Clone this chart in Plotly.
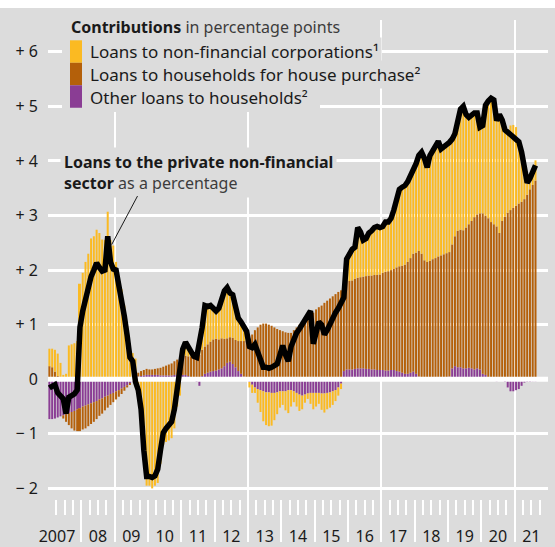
import plotly.graph_objects as go

# monthly observations, Jan 2007 - Aug 2021
months = [f"{y}-{m:02d}" for y in range(2007, 2022) for m in range(1, 13)][:176]

# contributions in percentage points
corporations = [
    0.32, 0.34, 0.40, 0.41, 0.28, 0.08, 0.10, 0.62, 0.64, 0.66, 0.70, 1.75,
    1.95, 2.15, 2.30, 2.58, 2.62, 2.74, 2.68, 2.56, 2.55, 3.07, 2.55, 2.45,
    2.15, 1.85, 1.65, 1.35, 0.95, 0.65, 0.45, 0.30, -0.35, -0.75, -1.10, -1.95,
    -1.95, -2.00, -1.95, -1.90, -1.55, -1.20, -1.15, -1.12, -1.08, -0.90, -0.50, -0.30,
    0.19, 0.27, 0.20, 0.08, 0.03, 0.03, 0.17, 0.41, 0.70, 0.71, 0.63, 0.57,
    0.55, 0.60, 0.78, 0.88, 0.95, 0.85, 0.82, 0.70, 0.50, 0.40, 0.25, 0.15,
    -0.10, -0.15, -0.10, -0.25, -0.40, -0.55, -0.60, -0.62, -0.60, -0.50, -0.40, -0.30,
    -0.25, -0.35, -0.42, -0.30, -0.20, -0.25, -0.30, -0.25, -0.15, -0.10, -0.20, -0.30,
    -0.25, -0.20, -0.30, -0.35, -0.30, -0.28, -0.25, -0.20, -0.15, -0.10, 0.05, 0.40,
    0.48, 0.55, 0.58, 0.90, 0.82, 0.68, 0.70, 0.78, 0.80, 0.85, 0.88, 0.85,
    0.85, 0.91, 0.90, 0.95, 1.08, 1.25, 1.41, 1.44, 1.45, 1.47, 1.50, 1.50,
    1.63, 1.75, 1.86, 1.87, 1.73, 1.93, 2.00, 2.08, 2.11, 1.95, 1.96, 1.99,
    2.01, 1.93, 1.88, 2.03, 2.21, 2.27, 2.07, 1.96, 1.95, 1.91, 1.86, 1.58,
    1.61, 2.02, 2.15, 2.27, 2.28, 1.94, 2.17, 1.85, 1.58, 1.50, 1.55, 1.52,
    1.44, 1.18, 0.95, 0.40, 0.20, 0.18, 0.22, 0.37,
]
house_purchase = [
    0.24, 0.22, 0.14, 0.06, 0.02, -0.06, -0.14, -0.22, -0.30, -0.36, -0.40, -0.42,
    -0.42, -0.42, -0.40, -0.38, -0.36, -0.33, -0.30, -0.28, -0.25, -0.22, -0.20, -0.17,
    -0.15, -0.12, -0.10, -0.07, -0.04, -0.02, 0.03, 0.05, 0.07, 0.09, 0.10, 0.11,
    0.10, 0.10, 0.11, 0.12, 0.14, 0.16, 0.18, 0.20, 0.22, 0.25, 0.28, 0.30,
    0.33, 0.35, 0.36, 0.38, 0.40, 0.42, 0.45, 0.48, 0.50, 0.52, 0.55, 0.58,
    0.58, 0.55, 0.55, 0.50, 0.45, 0.45, 0.48, 0.50, 0.55, 0.60, 0.65, 0.68,
    0.75, 0.82, 0.90, 0.95, 1.00, 1.02, 1.02, 1.00, 0.98, 0.95, 0.92, 0.90,
    0.88, 0.86, 0.85, 0.85, 0.90, 0.95, 1.00, 1.05, 1.10, 1.15, 1.20, 1.22,
    1.28, 1.32, 1.35, 1.40, 1.44, 1.48, 1.52, 1.56, 1.60, 1.63, 1.55, 1.65,
    1.62, 1.63, 1.65, 1.66, 1.67, 1.68, 1.70, 1.71, 1.72, 1.73, 1.74, 1.75,
    1.78, 1.81, 1.82, 1.83, 1.85, 1.90, 1.93, 1.96, 2.00, 2.05, 2.10, 2.16,
    2.22, 2.30, 2.28, 2.17, 2.14, 2.16, 2.19, 2.21, 2.24, 2.26, 2.27, 2.28,
    2.28, 2.27, 2.38, 2.50, 2.52, 2.53, 2.58, 2.63, 2.70, 2.79, 2.82, 2.86,
    2.94, 2.92, 2.93, 2.88, 2.84, 2.80, 2.68, 2.90, 2.98, 3.05, 3.10, 3.14,
    3.18, 3.22, 3.25, 3.30, 3.38, 3.48, 3.56, 3.64,
]
other_households = [
    -0.73, -0.73, -0.72, -0.70, -0.68, -0.66, -0.64, -0.62, -0.60, -0.58, -0.55, -0.53,
    -0.50, -0.48, -0.46, -0.44, -0.42, -0.40, -0.37, -0.35, -0.32, -0.30, -0.27, -0.25,
    -0.22, -0.20, -0.17, -0.14, -0.11, -0.08, -0.05, 0.03, 0.05, 0.06, 0.07, 0.08,
    0.08, 0.08, 0.08, 0.08, 0.07, 0.07, 0.07, 0.07, 0.07, 0.08, 0.08, 0.08,
    0.08, 0.08, 0.06, 0.04, 0.02, -0.05, -0.12, 0.06, 0.10, 0.12, 0.14, 0.15,
    0.16, 0.18, 0.20, 0.24, 0.30, 0.32, 0.28, 0.22, 0.15, 0.10, 0.05, 0.02,
    -0.05, -0.10, -0.15, -0.18, -0.20, -0.22, -0.24, -0.24, -0.25, -0.25, -0.24, -0.22,
    -0.22, -0.22, -0.20, -0.20, -0.22, -0.25, -0.28, -0.30, -0.28, -0.26, -0.25, -0.25,
    -0.25, -0.25, -0.26, -0.26, -0.25, -0.24, -0.22, -0.20, -0.15, -0.08, 0.15, 0.18,
    0.18, 0.18, 0.19, 0.20, 0.20, 0.20, 0.19, 0.19, 0.18, 0.18, 0.17, 0.17,
    0.17, 0.16, 0.16, 0.17, 0.17, 0.15, 0.14, 0.12, 0.10, 0.10, 0.12, 0.14,
    0.10, 0.05, 0.02, 0.01, 0.01, 0.01, 0.01, 0.01, 0.01, 0.01, 0.02, 0.03,
    0.05, 0.20, 0.24, 0.22, 0.22, 0.20, 0.20, 0.21, 0.20, 0.18, 0.20, 0.18,
    0.10, 0.08, 0.02, -0.02, -0.03, -0.04, -0.03, -0.02, -0.05, -0.15, -0.22, -0.22,
    -0.20, -0.18, -0.12, -0.06, -0.05, -0.05, -0.04, -0.04,
]
# loans to the private non-financial sector, growth in %
total_growth = [
    -0.16, -0.12, -0.10, -0.25, -0.32, -0.36, -0.63, -0.33, -0.30, -0.27, -0.20, 0.95,
    1.25, 1.50, 1.70, 1.88, 2.00, 2.13, 2.05, 1.98, 2.00, 2.62, 2.15, 2.02,
    2.00, 1.75, 1.45, 1.15, 0.80, 0.40, 0.33, -0.05, -0.20, -0.55, -1.30, -1.78,
    -1.78, -1.80, -1.77, -1.65, -1.30, -0.98, -0.90, -0.85, -0.78, -0.55, -0.20, 0.15,
    0.55, 0.68, 0.60, 0.50, 0.42, 0.40, 0.62, 0.95, 1.35, 1.33, 1.35, 1.30,
    1.25, 1.30, 1.50, 1.62, 1.68, 1.58, 1.55, 1.35, 1.12, 1.05, 0.95, 0.88,
    0.60, 0.58, 0.64, 0.50, 0.40, 0.22, 0.22, 0.20, 0.22, 0.24, 0.28, 0.45,
    0.62, 0.45, 0.33, 0.60, 0.76, 0.85, 0.92, 1.00, 1.10, 1.20, 1.25, 0.65,
    0.85, 1.05, 1.00, 0.82, 0.90, 1.02, 1.12, 1.22, 1.30, 1.40, 1.50, 2.20,
    2.30, 2.38, 2.42, 2.78, 2.70, 2.55, 2.58, 2.68, 2.72, 2.78, 2.80, 2.78,
    2.80, 2.88, 2.88, 2.95, 3.10, 3.30, 3.48, 3.52, 3.55, 3.62, 3.72, 3.80,
    3.95, 4.10, 4.16, 4.05, 3.88, 4.10, 4.20, 4.30, 4.36, 4.22, 4.25, 4.30,
    4.34, 4.40, 4.50, 4.75, 4.95, 5.00, 4.85, 4.80, 4.85, 4.88, 4.88, 4.62,
    4.65, 5.02, 5.10, 5.15, 5.12, 4.74, 4.85, 4.75, 4.57, 4.53, 4.48, 4.46,
    4.42, 4.35, 4.16, 3.85, 3.60, 3.68, 3.82, 3.92,
]

y_ticks = [-2, -1, 0, 1, 2, 3, 4, 5, 6]
y_labels = ["\u2212 2", "\u2212 1", "0", "+ 1", "+ 2", "+ 3", "+ 4", "+ 5", "+ 6"]
years = list(range(2007, 2022))
year_labels = ["2007", "08", "09", "10", "11", "12", "13", "14", "15",
               "16", "17", "18", "19", "20", "21"]

# mid-month position on a fractional-year axis
x = [int(s[:4]) + (int(s[5:]) - 0.5) / 12 for s in months]

GREY = "#dcdcdc"
TXT = "#1a1a1a"
FONT = "Noto Sans"

W, H = 555, 547
ML, MR, MT, MB = 48, 7, 20, 0
PW, PH = W - ML - MR, H - MT - MB


def px(v):  # pixel -> paper x
    return (v - ML) / PW


def py(v):  # pixel -> paper y
    return (H - MB - v) / PH


fig = go.Figure()

fig.add_trace(go.Bar(x=x, y=other_households, name="Other loans to households",
                     marker_color="#8a3d94", marker_line_width=0))
fig.add_trace(go.Bar(x=x, y=house_purchase, name="Loans to households for house purchase",
                     marker_color="#b4600a", marker_line_width=0))
fig.add_trace(go.Bar(x=x, y=corporations, name="Loans to non-financial corporations",
                     marker_color="#fbba22", marker_line_width=0))

# zero line sits above the bars but under the growth line
fig.add_trace(go.Scatter(x=[2007, 2022], y=[0, 0], mode="lines",
                         line=dict(color="white", width=5), hoverinfo="skip"))

fig.add_trace(go.Scatter(x=x, y=total_growth, mode="lines",
                         name="Loans to the private non-financial sector",
                         line=dict(color="#000000", width=5.5)))

# empty traces so the helper axes get drawn
for ax in ["x2", "x3", "x4"]:
    fig.add_trace(go.Scatter(x=[], y=[], xaxis=ax, yaxis="y", hoverinfo="skip"))

xr = [2007, 2022]
fig.update_layout(
    width=W, height=H,
    margin=dict(l=ML, r=MR, t=MT, b=MB),
    paper_bgcolor=GREY, plot_bgcolor=GREY,
    barmode="relative", bargap=0.28,
    showlegend=False,
    font=dict(family=FONT, size=16, color=TXT),
    xaxis=dict(range=xr, tickvals=[2009, 2013, 2017, 2021], showticklabels=False,
               ticks="", showgrid=True, gridcolor="white", gridwidth=2,
               zeroline=False, showline=False),
    # year boundaries
    xaxis2=dict(range=xr, overlaying="x", anchor="free", position=0,
                tickvals=years + [2022], ticks="inside", ticklen=42,
                tickwidth=2, tickcolor="white", showticklabels=False,
                showgrid=False, zeroline=False, showline=False),
    # year labels
    xaxis3=dict(range=xr, overlaying="x", anchor="free", position=py(530),
                tickvals=[2007.27] + [y + 0.5 for y in years[1:]],
                ticktext=year_labels, ticks="",
                tickfont=dict(size=16, color=TXT),
                showgrid=False, zeroline=False, showline=False),
    # quarters
    xaxis4=dict(range=xr, overlaying="x", anchor="free", position=py(520),
                tickvals=[y + q / 4 for y in years for q in range(1, 4)],
                ticks="inside", ticklen=15, tickwidth=2, tickcolor="white",
                showticklabels=False, showgrid=False, zeroline=False, showline=False),
    yaxis=dict(range=[(382.7 - 547) / 55.1, (382.7 - 20) / 55.1],
               tickvals=y_ticks, ticktext=y_labels, ticks="",
               ticklabelstandoff=9, tickfont=dict(size=16, color=TXT),
               showgrid=True, gridcolor="white", gridwidth=2.5,
               zeroline=False, showline=False),
)

shapes = [
    # white strip above the panel
    dict(type="rect", xref="paper", yref="paper", x0=px(-2), x1=px(W + 2),
         y0=py(8), y1=py(-2), fillcolor="white", line_width=0, layer="above"),
    # legend background
    dict(type="rect", xref="paper", yref="paper", x0=px(62), x1=px(320),
         y0=py(113), y1=py(19), fillcolor=GREY, line_width=0, layer="above"),
]
legend_colors = ["#fbba22", "#b4600a", "#8a3d94"]
for i, c in enumerate(legend_colors):
    top = 40.5 + i * 22.7
    shapes.append(dict(type="rect", xref="paper", yref="paper",
                       x0=px(70), x1=px(82), y0=py(top + 22.7), y1=py(top),
                       fillcolor=c, line_width=0, layer="above"))
fig.update_layout(shapes=shapes)

legend_texts = ["Loans to non-financial corporations\u00b9",
                "Loans to households for house purchase\u00b2",
                "Other loans to households\u00b2"]
ann = [dict(x=px(69), y=py(27), xref="paper", yref="paper", xanchor="left",
            yanchor="middle", showarrow=False, bgcolor=GREY, borderpad=1,
            text="<b>Contributions</b> <span style='color:#3c3c3c'>in percentage points</span>")]
for i, t in enumerate(legend_texts):
    ann.append(dict(x=px(87), y=py(52 + i * 23), xref="paper", yref="paper",
                    xanchor="left", yanchor="middle", showarrow=False,
                    bgcolor=GREY, borderpad=2, text=t, font=dict(size=17)))
ann.append(dict(x=px(60), y=py(174), xref="paper", yref="paper", xanchor="left",
                yanchor="middle", align="left", showarrow=False, bgcolor=GREY,
                borderpad=3,
                text="<b>Loans to the private non-financial</b><br>"
                     "<b>sector</b> <span style='color:#3c3c3c'>as a percentage</span>"))
# pointer to the 2008 peak of the growth line
ann.append(dict(x=2007 + (111.7 - ML) / PW * 15, y=(382.7 - 246.7) / 55.1,
                xref="x", yref="y", text="", showarrow=True, arrowhead=0,
                arrowwidth=1, arrowcolor=TXT, ax=26.6, ay=-50, standoff=0))
fig.update_layout(annotations=ann)

# page body margin would shift the figure by 8px
fig.write_html("out.html", config={"displayModeBar": False},
               post_script="document.body.style.margin='0';")
